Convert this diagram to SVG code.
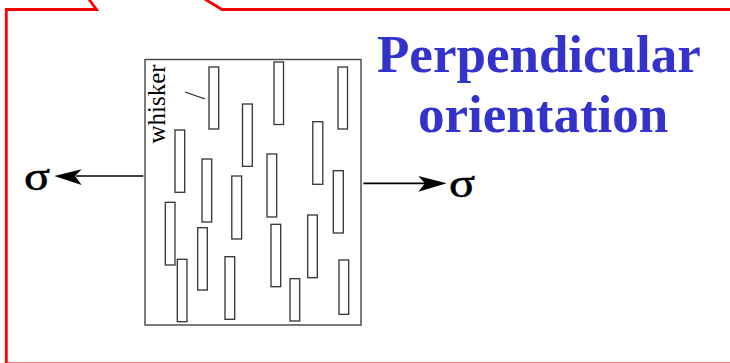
<svg xmlns="http://www.w3.org/2000/svg" width="730" height="363" viewBox="0 0 730 363">
<style>
.frame{fill:none;stroke:#ff0000;stroke-width:2.8;stroke-linejoin:miter}
.box{fill:#ffffff;stroke:#444444;stroke-width:1.4}
.wh rect{fill:#ffffff;stroke:#333333;stroke-width:1.3}
.lbl{font-family:"Liberation Serif","Times New Roman",serif;fill:#000000}
.sig{font-family:"Liberation Serif","Times New Roman",serif;font-size:40px;fill:#000000;stroke:#000000;stroke-width:0.6}
.title{font-family:"Liberation Serif","Times New Roman",serif;font-weight:bold;font-size:53px;fill:#3333cc}
.conn line{stroke:#000000;stroke-width:1.7}
.conn path{fill:#000000;stroke:none}
</style>
<rect x="0" y="0" width="730" height="363" fill="#ffffff"/>
<path class="frame" d="M 88,-2 L 96.5,9.5 L 6.3,9.5 L 6.3,364 L 745,364"/>
<path class="frame" d="M 203,-2 L 222,9.5 L 745,9.5"/>

<g id="specimen">
  <rect class="box" x="145" y="59.5" width="216" height="265.5"/>
  <g class="wh">
    <rect x="209" y="67" width="9.7" height="62"/>
    <rect x="274" y="62" width="9.5" height="62.5"/>
    <rect x="338" y="67" width="9.5" height="62"/>
    <rect x="242.5" y="104" width="9.8" height="62.3"/>
    <rect x="175" y="130" width="9.7" height="62.3"/>
    <rect x="202" y="159" width="9.7" height="63"/>
    <rect x="231.8" y="176" width="9.8" height="63"/>
    <rect x="267" y="154" width="9.7" height="63"/>
    <rect x="312.8" y="121.7" width="10" height="62.6"/>
    <rect x="333.3" y="170.7" width="10" height="62.3"/>
    <rect x="165.3" y="202.3" width="9.7" height="62.7"/>
    <rect x="177.3" y="259.3" width="9.7" height="62.4"/>
    <rect x="197.7" y="227.7" width="9.6" height="62.3"/>
    <rect x="225" y="256.7" width="9.7" height="62.6"/>
    <rect x="271" y="224.3" width="9.7" height="62.4"/>
    <rect x="290" y="278.7" width="9.7" height="42.3"/>
    <rect x="307.7" y="215" width="9.6" height="62.7"/>
    <rect x="339" y="260" width="9.7" height="54.3"/>
  </g>
</g>

<g id="whisker-label">
  <text class="lbl" font-size="25" transform="translate(164.5,143.5) rotate(-90)">whisker</text>
  <line x1="185" y1="92" x2="205" y2="99" stroke="#222222" stroke-width="1.3"/>
</g>

<g id="title">
  <text class="title" x="377" y="72">Perpendicular</text>
  <text class="title" x="418" y="132">orientation</text>
</g>

<g id="sigma-left">
  <text class="sig" x="24" y="189.5" textLength="26" lengthAdjust="spacingAndGlyphs">σ</text>
</g>
<g id="sigma-right">
  <text class="sig" x="449" y="196.5" textLength="26" lengthAdjust="spacingAndGlyphs">σ</text>
</g>

<g id="connectors" class="conn">
  <line x1="76" y1="176" x2="143.3" y2="176"/>
  <path d="M 54.3,176 L 81.7,169.3 L 75,176 L 81.7,185 Z"/>
  <line x1="363.3" y1="183.3" x2="425" y2="183.3"/>
  <path d="M 446.7,183.3 L 418.3,176 L 425,183.3 L 418.3,191.7 Z"/>
</g>
</svg>
